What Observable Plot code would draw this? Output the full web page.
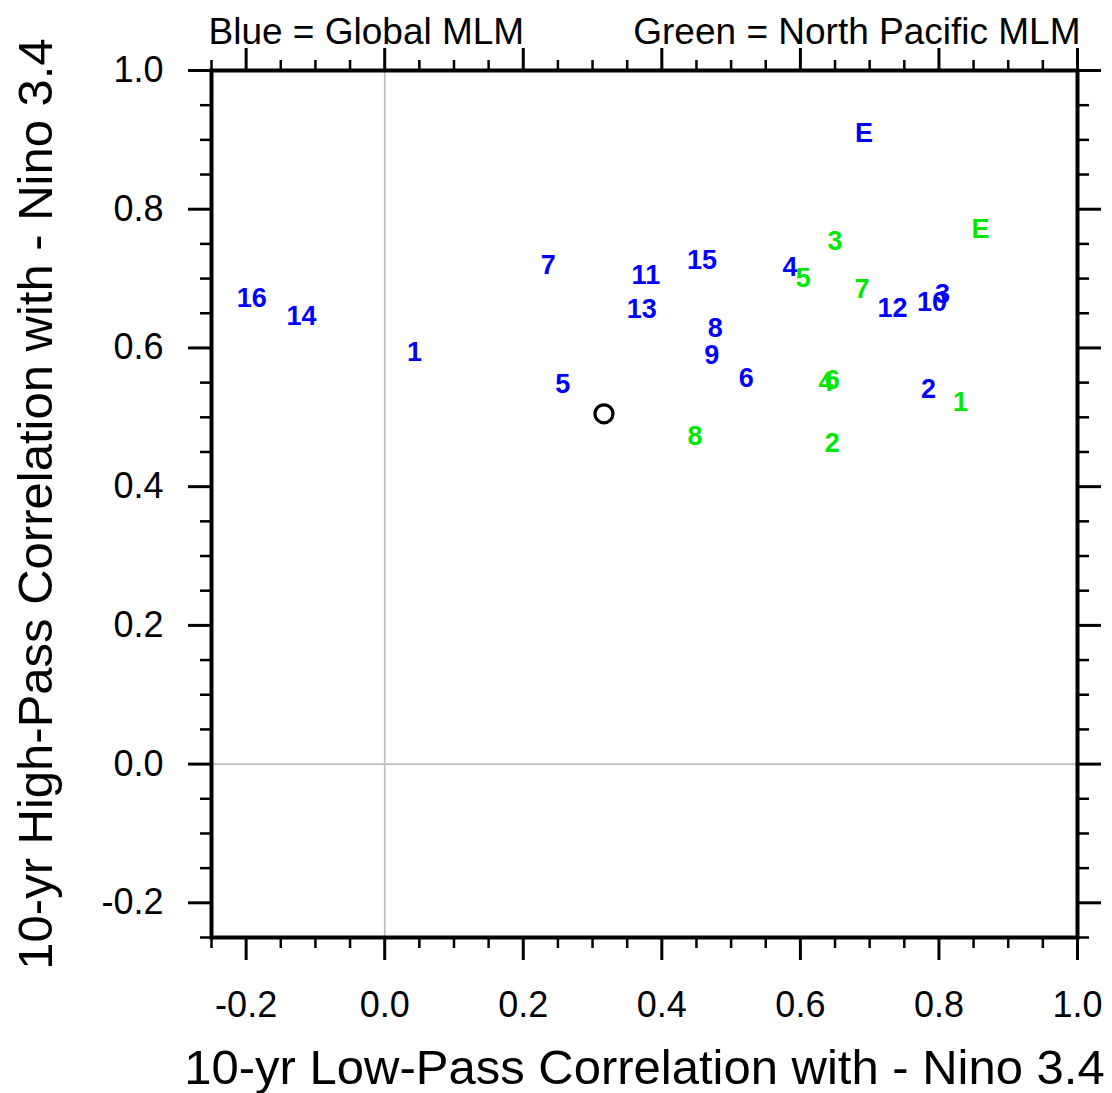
<!DOCTYPE html>
<html>
<head>
<meta charset="utf-8">
<script src="https://cdn.jsdelivr.net/npm/d3@7"></script>
<script src="https://cdn.jsdelivr.net/npm/@observablehq/plot@0.6"></script>
<style>
  html, body { margin: 0; padding: 0; background: #fff; }
</style>
</head>
<body>
<div id="chart"></div>
<script>
// Blue = Global MLM
const globalLabels = ["E", "16", "14", "1", "7", "5", "11", "13", "15", "8", "9", "6", "4", "12", "10", "3", "2"];
const globalLowPass = [0.692, -0.192, -0.120, 0.043, 0.236, 0.257, 0.377, 0.371, 0.458, 0.477, 0.472, 0.522, 0.585, 0.733, 0.790, 0.805, 0.785];
const globalHighPass = [0.910, 0.672, 0.645, 0.594, 0.719, 0.548, 0.704, 0.655, 0.726, 0.628, 0.590, 0.556, 0.716, 0.657, 0.665, 0.677, 0.540];

// Green = North Pacific MLM
const npLabels = ["E", "3", "5", "7", "4", "6", "1", "2", "8"];
const npLowPass = [0.860, 0.650, 0.604, 0.689, 0.637, 0.646, 0.831, 0.646, 0.448];
const npHighPass = [0.771, 0.753, 0.701, 0.684, 0.550, 0.553, 0.521, 0.463, 0.472];

// Observation (black circle)
const obsLowPass = [0.3165];
const obsHighPass = [0.505];

// Axis ticks
const xMajorTicks = [-0.2, 0.0, 0.2, 0.4, 0.6, 0.8, 1.0];
const yMajorTicks = [-0.2, 0.0, 0.2, 0.4, 0.6, 0.8, 1.0];
const minorTicks = [-0.25, -0.15, -0.1, -0.05, 0.05, 0.1, 0.15, 0.25, 0.3, 0.35, 0.45, 0.5, 0.55, 0.65, 0.7, 0.75, 0.85, 0.9, 0.95];

const xTitle = "10-yr Low-Pass Correlation with - Nino 3.4";
const yTitle = "10-yr High-Pass Correlation with - Nino 3.4";
const leftNote = "Blue = Global MLM";
const rightNote = "Green = North Pacific MLM";

const globalData = globalLabels.map((l, i) => ({label: l, x: globalLowPass[i], y: globalHighPass[i]}));
const npData = npLabels.map((l, i) => ({label: l, x: npLowPass[i], y: npHighPass[i]}));
const obsData = obsLowPass.map((x, i) => ({x, y: obsHighPass[i]}));

const fmt = d => (Math.abs(d) < 1e-9 ? 0 : d).toFixed(1);
const blank = () => "";

const chart = Plot.plot({
  width: 1112,
  height: 1093,
  marginLeft: 211,
  marginRight: 35,
  marginTop: 70,
  marginBottom: 156,
  x: {domain: [-0.25, 1.0]},
  y: {domain: [-0.25, 1.0]},
  style: {fontFamily: "'Liberation Sans', Arial, Helvetica, sans-serif", background: "#fff", color: "#000"},
  marks: [
    Plot.ruleX([0], {stroke: "#bbbbbb", strokeWidth: 1.6}),
    Plot.ruleY([0], {stroke: "#bbbbbb", strokeWidth: 1.6}),
    // major ticks
    Plot.axisX(xMajorTicks, {anchor: "bottom", tickSize: 23, tickPadding: 31, strokeWidth: 3, fontSize: 36, tickFormat: fmt, label: null}),
    Plot.axisX(xMajorTicks, {anchor: "top", tickSize: 23, strokeWidth: 3, tickFormat: blank, label: null}),
    Plot.axisY(yMajorTicks, {anchor: "left", tickSize: 23, tickPadding: 25, strokeWidth: 3, fontSize: 36, tickFormat: fmt, label: null}),
    Plot.axisY(yMajorTicks, {anchor: "right", tickSize: 23, strokeWidth: 3, tickFormat: blank, label: null}),
    // minor ticks
    Plot.axisX(minorTicks, {anchor: "bottom", tickSize: 11, strokeWidth: 2.5, tickFormat: blank, label: null}),
    Plot.axisX(minorTicks, {anchor: "top", tickSize: 11, strokeWidth: 2.5, tickFormat: blank, label: null}),
    Plot.axisY(minorTicks, {anchor: "left", tickSize: 11, strokeWidth: 2.5, tickFormat: blank, label: null}),
    Plot.axisY(minorTicks, {anchor: "right", tickSize: 11, strokeWidth: 2.5, tickFormat: blank, label: null}),
    Plot.frame({stroke: "#000", strokeWidth: 4}),
    // data labels
    Plot.text(globalData, {x: "x", y: "y", text: "label", fill: "#0000ff", fontSize: 27, fontWeight: "bold", textAnchor: "middle", lineAnchor: "middle"}),
    Plot.text(npData, {x: "x", y: "y", text: "label", fill: "#00e800", fontSize: 27, fontWeight: "bold", textAnchor: "middle", lineAnchor: "middle"}),
    Plot.dot(obsData, {x: "x", y: "y", r: 9, stroke: "#000", strokeWidth: 3.2, fill: "none"}),
    // titles
    Plot.text([xTitle], {frameAnchor: "bottom", dy: 131, fontSize: 49, textAnchor: "middle", lineAnchor: "middle", fill: "#000"}),
    Plot.text([yTitle], {frameAnchor: "left", dx: -175, rotate: -90, fontSize: 49, textAnchor: "middle", lineAnchor: "middle", fill: "#000"}),
    Plot.text([leftNote], {frameAnchor: "top-left", dx: -3, dy: -38, fontSize: 37, textAnchor: "start", lineAnchor: "middle", fill: "#000"}),
    Plot.text([rightNote], {frameAnchor: "top-right", dx: 3, dy: -38, fontSize: 37, textAnchor: "end", lineAnchor: "middle", fill: "#000"})
  ]
});

document.getElementById("chart").appendChild(chart);
</script>
</body>
</html>
